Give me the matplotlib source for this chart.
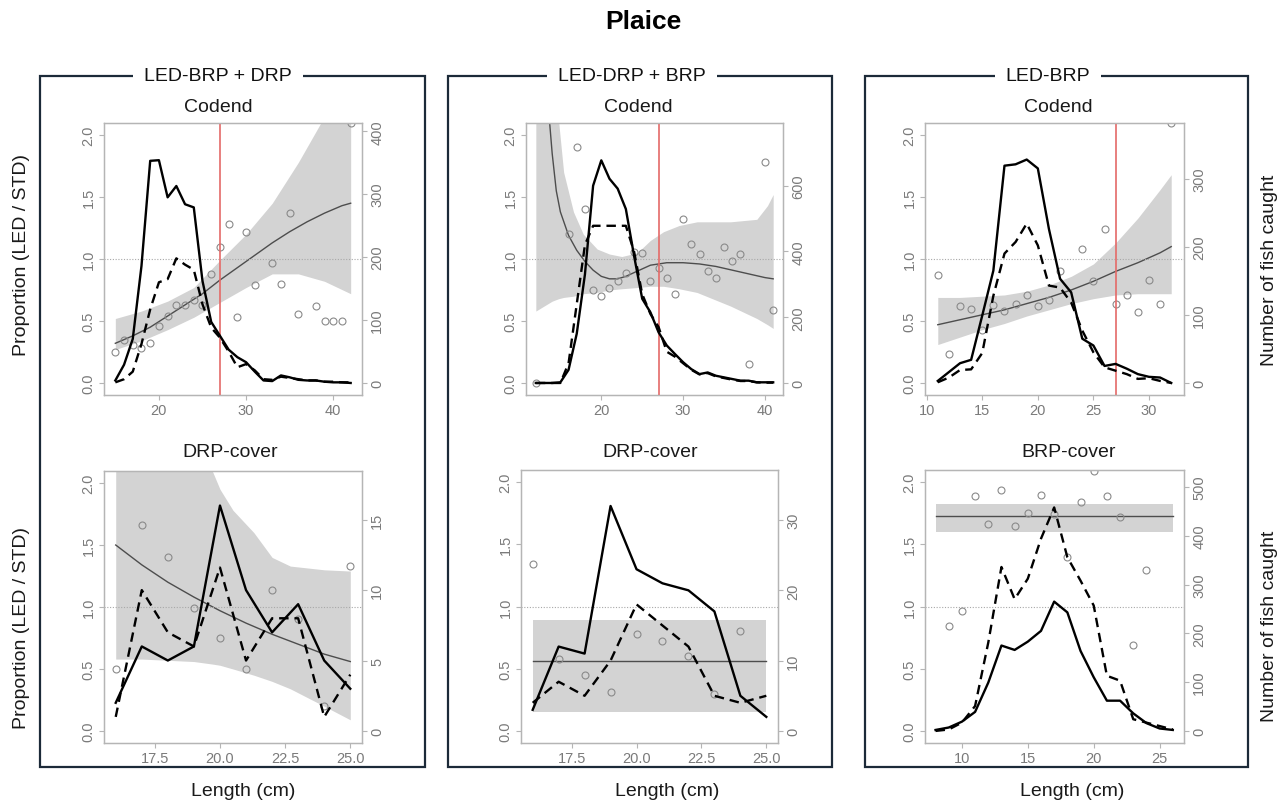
import numpy as np
import matplotlib
matplotlib.use("Agg")
import matplotlib.pyplot as plt
import matplotlib.ticker as ticker
from matplotlib.patches import Rectangle

plt.rcParams["font.family"] = ["Liberation Sans", "DejaVu Sans"]

W, H = 1287, 803

# ---------------- top row: Codend ----------------
# LED-BRP + DRP
len1 = np.arange(15, 43)
solid1 = [4, 29, 70, 186, 353, 354, 295, 313, 284, 279, 162, 97, 75, 53, 41, 33, 18, 4, 3, 12, 9, 5, 4, 4, 2, 1, 1, 0]
dashed1 = [1, 6, 18, 62, 117, 160, 165, 198, 188, 180, 125, 88, 72, 50, 25, 30, 20, 6, 5, 10, 8, 6, 4, 4, 2, 2, 1, 1]
fitx1 = [15, 17, 19, 21, 23, 25, 27, 29, 31, 33, 35, 37, 39, 41, 42]
fity1 = [0.32, 0.38, 0.45, 0.54, 0.63, 0.72, 0.83, 0.93, 1.03, 1.13, 1.22, 1.30, 1.37, 1.43, 1.45]
bandx1 = [15, 18, 21, 24, 27, 30, 33, 36, 39, 42]
lo1 = [0.27, 0.34, 0.43, 0.53, 0.65, 0.77, 0.88, 0.88, 0.82, 0.72]
hi1 = [0.52, 0.58, 0.66, 0.77, 0.99, 1.20, 1.45, 1.78, 2.15, 2.60]
ptx1 = [15, 16, 17, 18, 19, 20, 21, 22, 23, 24, 25, 26, 27, 28, 29, 30, 31, 33, 34, 35, 36, 38, 39, 40, 41, 42]
pty1 = [0.25, 0.35, 0.31, 0.28, 0.32, 0.46, 0.54, 0.63, 0.63, 0.67, 0.63, 0.88, 1.10, 1.28, 0.53, 1.22,
        0.79, 0.97, 0.80, 1.37, 0.56, 0.62, 0.50, 0.50, 0.50, 2.10]

# LED-DRP + BRP
len2 = np.arange(12, 42)
solid2 = [0, 0, 0, 2, 40, 150, 330, 600, 677, 621, 591, 529, 387, 256, 215, 154, 114, 88, 63, 42, 27, 32,
          22, 17, 12, 7, 7, 2, 2, 2]
dashed2 = [0, 0, 0, 0, 60, 240, 420, 478, 478, 478, 478, 478, 400, 270, 210, 170, 95, 80, 60, 40, 26, 30,
           20, 15, 10, 6, 6, 2, 1, 1]
fitx2 = [12, 13, 13.5, 14, 14.5, 15, 16, 17, 18, 19, 20, 21, 22, 23, 24, 25, 26, 27, 28, 30, 32, 34, 36, 38, 40, 41]
fity2 = [3.5, 2.6, 2.25, 1.85, 1.55, 1.38, 1.19, 1.07, 0.98, 0.91, 0.86, 0.84, 0.84, 0.86, 0.89, 0.92, 0.95,
         0.96, 0.97, 0.97, 0.96, 0.94, 0.91, 0.88, 0.85, 0.84]
bandx2 = [12, 13, 14, 14.8, 15.4, 16.6, 17.8, 19.5, 21, 22.5, 24.4, 26, 27.6, 29.5, 31.7, 35.8, 39, 40.3, 41]
lo2 = [0.58, 0.62, 0.66, 0.68, 0.69, 0.70, 0.72, 0.73, 0.75, 0.76, 0.77, 0.78, 0.78, 0.76, 0.73, 0.62, 0.52,
       0.47, 0.44]
hi2 = [3.6, 3.0, 2.4, 2.1, 1.70, 1.38, 1.20, 1.08, 1.04, 1.02, 1.05, 1.15, 1.22, 1.27, 1.30, 1.30, 1.32,
       1.43, 1.52]
ptx2 = [12, 16, 17, 18, 19, 20, 21, 22, 23, 24, 25, 26, 27, 28, 29, 30, 31, 32, 33, 34, 35, 36, 37, 38, 40, 41]
pty2 = [0.0, 1.20, 1.90, 1.40, 0.75, 0.70, 0.77, 0.82, 0.89, 1.06, 1.05, 0.82, 0.93, 0.85, 0.72, 1.32, 1.12,
        1.04, 0.90, 0.85, 1.10, 0.98, 1.04, 0.15, 1.78, 0.59]

# LED-BRP
len3 = np.arange(11, 33)
solid3 = [3, 16, 29, 34, 99, 165, 319, 321, 328, 315, 226, 153, 133, 65, 55, 25, 28, 21, 13, 9, 8, 0]
dashed3 = [1, 8, 19, 20, 44, 128, 190, 207, 234, 202, 143, 140, 118, 77, 45, 23, 18, 13, 6, 7, 3, 0]
fitx3 = [11, 13, 15, 17, 19, 21, 23, 25, 27, 29, 31, 32]
fity3 = [0.47, 0.51, 0.55, 0.59, 0.64, 0.69, 0.75, 0.82, 0.90, 0.97, 1.05, 1.10]
lo3 = [0.31, 0.37, 0.43, 0.48, 0.54, 0.59, 0.64, 0.68, 0.71, 0.72, 0.72, 0.72]
hi3 = [0.69, 0.69, 0.70, 0.71, 0.74, 0.79, 0.86, 0.96, 1.13, 1.33, 1.56, 1.68]
ptx3 = [11, 12, 13, 14, 15, 16, 17, 18, 19, 20, 21, 22, 24, 25, 26, 27, 28, 29, 30, 31, 32]
pty3 = [0.87, 0.23, 0.62, 0.60, 0.43, 0.63, 0.58, 0.64, 0.71, 0.62, 0.67, 0.90, 1.08, 0.82, 1.24, 0.64,
        0.71, 0.57, 0.83, 0.64, 2.10]

# ---------------- bottom row: covers ----------------
# DRP-cover (LED-BRP + DRP)
len4 = np.arange(16, 26)
solid4 = [2, 6, 5, 6, 16, 10, 7, 9, 5, 3]
dashed4 = [1, 10, 7, 6, 11.6, 5, 8, 8, 1, 4]
fity4 = [1.50, 1.34, 1.20, 1.08, 0.97, 0.87, 0.78, 0.70, 0.62, 0.56]
bandx4 = [16, 17, 18, 19, 19.7, 20, 20.5, 21.3, 22, 22.7, 24, 25]
lo4 = [0.58, 0.58, 0.57, 0.56, 0.54, 0.53, 0.50, 0.45, 0.40, 0.34, 0.20, 0.09]
hi4 = [3.0, 2.75, 2.5, 2.25, 2.1, 1.95, 1.78, 1.60, 1.40, 1.33, 1.30, 1.29]
pty4 = [0.50, 1.66, 1.40, 0.99, 0.75, 0.50, 1.14, 0.90, 0.20, 1.33]

# DRP-cover (LED-DRP + BRP)
len5 = np.arange(16, 26)
solid5 = [3, 12, 11, 32, 23, 21, 20, 17, 5, 2]
dashed5 = [4, 7, 5, 10, 18, 15, 12, 5, 4, 5]
fit5 = [0.56, 0.56]
lo5 = [0.15, 0.15]
hi5 = [0.89, 0.89]
ptx5 = [16, 17, 18, 19, 20, 21, 22, 23, 24]
pty5 = [1.34, 0.58, 0.45, 0.31, 0.78, 0.72, 0.60, 0.30, 0.80]

# BRP-cover (LED-BRP)
len6 = np.arange(8, 27)
solid6 = [2, 7, 19, 39, 99, 175, 166, 183, 205, 265, 243, 164, 110, 62, 62, 36, 16, 5, 2]
dashed6 = [0, 3, 17, 51, 181, 336, 270, 312, 394, 458, 356, 308, 257, 113, 103, 24, 17, 10, 3]
fit6 = [1.73, 1.73]
lo6 = [1.60, 1.60]
hi6 = [1.825, 1.825]
ptx6 = [9, 10, 11, 12, 13, 14, 15, 16, 17, 18, 19, 20, 21, 22, 23, 24]
pty6 = [0.845, 0.966, 1.89, 1.66, 1.94, 1.645, 1.75, 1.90, 1.74, 1.40, 1.84, 2.09, 1.89, 1.72, 0.69, 1.29]

mcrs = 27

box_titles = ["LED-BRP + DRP", "LED-DRP + BRP", "LED-BRP"]
sub_titles = [["Codend", "DRP-cover"], ["Codend", "DRP-cover"], ["Codend", "BRP-cover"]]

GRID = "#b5b5b5"
TXT = "#7a7a7a"
YL = (-0.097, 2.097)

fig = plt.figure(figsize=(W / 100, H / 100), dpi=100)


def fx(px):
    return px / W


def fy(py):
    return 1 - py / H


def make_ax(l, t, r, b):
    return fig.add_axes([fx(l), fy(b), (r - l) / W, (b - t) / H])


def style(ax):
    for sp in ax.spines.values():
        sp.set_color(GRID)
        sp.set_linewidth(0.9)
    ax.tick_params(axis="both", colors=GRID, labelcolor=TXT, length=3.5, width=0.8,
                   labelsize=10.5, pad=2.5)
    ax.tick_params(axis="y", labelrotation=90)
    for lab in ax.get_yticklabels():
        lab.set_va("center")


def panel(pos, xlim, xticks, xfmt, fitx, fity, bx, lo, hi, ptx, pty,
          lx, solid, dashed, factor, rticks, red):
    ax = make_ax(*pos)
    ax.fill_between(bx, lo, hi, color="#d3d3d3", lw=0, zorder=1)
    ax.plot(fitx, fity, color="#4d4d4d", lw=1.0, zorder=2)
    ax.axhline(1.0, color="#a8a8a8", lw=0.8, ls=(0, (1, 1.5)), zorder=2)
    ax.plot(ptx, pty, "o", mfc="none", mec="#8a8a8a", mew=0.8, ms=5, zorder=3)
    if red:
        ax.axvline(mcrs, color="#e46a68", lw=1.2, zorder=4)
    ax.set_xlim(*xlim)
    ax.set_ylim(*YL)
    ax.set_xticks(xticks)
    ax.xaxis.set_major_formatter(ticker.FormatStrFormatter(xfmt))
    ax.set_yticks([0, 0.5, 1.0, 1.5, 2.0])
    ax.yaxis.set_major_formatter(ticker.FormatStrFormatter("%.1f"))
    style(ax)

    ax2 = ax.twinx()
    ax2.plot(lx, solid, color="black", lw=1.7, zorder=5)
    ax2.plot(lx, dashed, color="black", lw=1.7, ls=(0, (4, 2.5)), zorder=5)
    ax2.set_ylim(YL[0] * factor, YL[1] * factor)
    ax2.set_yticks(rticks)
    style(ax2)
    ax2.set_xlim(*xlim)
    return ax


# top row
panel((104, 124, 362, 396), (13.7, 43.3), [20, 30, 40], "%d", fitx1, fity1, bandx1, lo1, hi1,
      ptx1, pty1, len1, solid1, dashed1, 197, [0, 100, 200, 300, 400], True)
panel((526, 124, 783, 396), (10.8, 42.2), [20, 30, 40], "%d", fitx2, fity2, bandx2, lo2, hi2,
      ptx2, pty2, len2, solid2, dashed2, 377, [0, 200, 400, 600], True)
panel((925, 124, 1184, 396), (9.85, 33.15), [10, 15, 20, 25, 30], "%d", fitx3, fity3, fitx3, lo3, hi3,
      ptx3, pty3, len3, solid3, dashed3, 182, [0, 100, 200, 300], True)

# bottom row
panel((104, 472, 362, 744), (15.55, 25.45), [17.5, 20, 22.5, 25], "%.1f", len4, fity4, bandx4, lo4, hi4,
      len4, pty4, len4, solid4, dashed4, 8.8, [0, 5, 10, 15], False)
panel((521, 471, 778, 744), (15.55, 25.45), [17.5, 20, 22.5, 25], "%.1f", [16, 25], fit5, [16, 25], lo5, hi5,
      ptx5, pty5, len5, solid5, dashed5, 17.7, [0, 10, 20, 30], False)
panel((925, 471, 1184, 744), (7.2, 26.85), [10, 15, 20, 25], "%d", [8, 26], fit6, [8, 26], lo6, hi6,
      ptx6, pty6, len6, solid6, dashed6, 255, [0, 100, 200, 300, 400, 500], False)

# boxes around each gear
boxes = [(40, 77, 425, 768), (448, 77, 832, 768), (865, 77, 1248, 768)]
title_x = [218, 632, 1048]
codend_x = [218, 638, 1058]
cover_x = [230, 650, 1069]
len_x = [243, 667, 1072]
for i, (l, t, r, b) in enumerate(boxes):
    rect = Rectangle((fx(l), fy(b)), (r - l) / W, (b - t) / H, transform=fig.transFigure,
                     fill=False, ec="#1c2a38", lw=1.6, zorder=1)
    fig.add_artist(rect)
    fig.text(fx(title_x[i]), fy(77), box_titles[i], ha="center", va="center", fontsize=14,
             color="#111111", zorder=3,
             bbox=dict(boxstyle="square,pad=0.55", fc="white", ec="none"))
    fig.text(fx(codend_x[i]), fy(108), sub_titles[i][0], ha="center", va="center", fontsize=14,
             color="#1a1a1a", zorder=4)
    fig.text(fx(cover_x[i]), fy(453), sub_titles[i][1], ha="center", va="center", fontsize=14,
             color="#1a1a1a", zorder=4)
    fig.text(fx(len_x[i]), fy(792), "Length (cm)", ha="center", va="center", fontsize=14,
             color="#1a1a1a")

for yc in (255, 628):
    fig.text(fx(22), fy(yc), "Proportion (LED / STD)", rotation=90, ha="center", va="center",
             fontsize=14, color="#1a1a1a")
for yc in (270, 626):
    fig.text(fx(1270), fy(yc), "Number of fish caught", rotation=90, ha="center", va="center",
             fontsize=14, color="#1a1a1a")

fig.text(0.5, fy(22), "Plaice", ha="center", va="center", fontsize=19, fontweight="bold")

fig.savefig("out.png", dpi=100, facecolor="white")
